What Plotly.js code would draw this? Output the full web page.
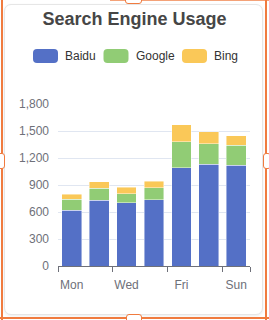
<!DOCTYPE html>
<html>
<head>
<meta charset="utf-8">
<script src="https://cdn.plot.ly/plotly-3.0.1.min.js"></script>
<style>
  html, body { margin:0; padding:0; background:#fff; width:269px; height:320px; overflow:hidden; }
  #card { position:absolute; left:4px; top:4px; width:257px; height:309px; border:1px solid #e6e6e6; border-radius:7px; box-shadow:0 1px 3px rgba(0,0,0,0.08); background:#fff; }
  #chart { position:absolute; left:0; top:0; width:269px; height:320px; }
  .fr { position:absolute; background:#f07b3f; pointer-events:none; }
  .hd { position:absolute; background:#fff; border:1.5px solid #f07b3f; border-radius:3px; pointer-events:none; box-sizing:border-box; }
</style>
</head>
<body>
<div id="card"></div>
<div id="chart"></div>
<div class="fr" style="left:1px;top:0;width:2px;height:320px;"></div>
<div class="fr" style="left:265px;top:0;width:2px;height:320px;"></div>
<div class="fr" style="left:0;top:317px;width:269px;height:2px;"></div>
<div class="fr" style="left:110px;top:0;width:159px;height:1px;opacity:0.7;"></div>
<div class="hd" style="left:125px;top:-4px;width:17px;height:8px;"></div>
<div class="hd" style="left:126px;top:314px;width:16px;height:9px;"></div>
<div class="hd" style="left:-3px;top:153px;width:8px;height:16px;"></div>
<div class="hd" style="left:263px;top:153px;width:8px;height:16px;"></div>
<script>
// ---- data ----
const days = ['Mon', 'Tue', 'Wed', 'Thu', 'Fri', 'Sat', 'Sun'];
const baidu = [620, 732, 701, 734, 1090, 1130, 1120];
const google = [120, 132, 101, 134, 290, 230, 220];
const bing = [60, 72, 71, 74, 190, 130, 110];
const seriesNames = ['Baidu', 'Google', 'Bing'];
const seriesColors = ['#5470c6', '#91cc75', '#fac858'];
const yTicks = [0, 300, 600, 900, 1200, 1500, 1800];

const W = 269, H = 320;
const M = {l: 58, r: 19, t: 104, b: 54};
const pw = W - M.l - M.r, ph = H - M.t - M.b;
const px = x => (x - M.l) / pw;
const py = y => (H - M.b - y) / ph;

const seriesData = [baidu, google, bing];
const traces = seriesData.map((vals, i) => ({
  type: 'bar',
  name: seriesNames[i],
  x: days,
  y: vals,
  marker: {color: seriesColors[i], line: {color: 'rgba(255,255,255,0.55)', width: 0.8}},
  showlegend: false,
  hoverinfo: 'x+y+name'
}));

// manual legend (rounded icons like the reference)
const legendItems = [
  {ix: 33, tx: 63},
  {ix: 103.5, tx: 133.5},
  {ix: 182, tx: 212}
];
const shapes = [];
const annotations = [];
function rrect(x0, y0, x1, y1, r) {
  const X = v => px(v), Y = v => py(v);
  return 'M' + X(x0 + r) + ',' + Y(y0) +
    ' L' + X(x1 - r) + ',' + Y(y0) + ' Q' + X(x1) + ',' + Y(y0) + ' ' + X(x1) + ',' + Y(y0 + r) +
    ' L' + X(x1) + ',' + Y(y1 - r) + ' Q' + X(x1) + ',' + Y(y1) + ' ' + X(x1 - r) + ',' + Y(y1) +
    ' L' + X(x0 + r) + ',' + Y(y1) + ' Q' + X(x0) + ',' + Y(y1) + ' ' + X(x0) + ',' + Y(y1 - r) +
    ' L' + X(x0) + ',' + Y(y0 + r) + ' Q' + X(x0) + ',' + Y(y0) + ' ' + X(x0 + r) + ',' + Y(y0) + ' Z';
}
seriesNames.forEach((n, i) => {
  const it = legendItems[i];
  shapes.push({type: 'path', xref: 'paper', yref: 'paper', path: rrect(it.ix, 49, it.ix + 25, 63, 4),
    fillcolor: seriesColors[i], line: {width: 0}});
  annotations.push({xref: 'paper', yref: 'paper', x: px(it.tx), y: py(56), xanchor: 'left', yanchor: 'middle',
    text: n, showarrow: false, font: {family: 'Liberation Sans, Arial, sans-serif', size: 12, color: '#333'}});
});

const bnd = [];
for (let i = 0; i < days.length; i += 2) bnd.push(i - 0.5);
bnd.push(days.length - 0.5);

const layout = {
  width: W, height: H,
  margin: M,
  paper_bgcolor: 'rgba(0,0,0,0)',
  plot_bgcolor: 'rgba(0,0,0,0)',
  barmode: 'stack',
  bargap: 0.28,
  title: {text: '<b>Search Engine Usage</b>', x: 0.5, xref: 'container', xanchor: 'center',
    y: 1 - 18.5 / H, yref: 'container', yanchor: 'middle',
    font: {family: 'Liberation Sans, Arial, sans-serif', size: 18, color: '#464646'}},
  font: {family: 'Liberation Sans, Arial, sans-serif', size: 12, color: '#6E7079'},
  xaxis: {
    type: 'category', dtick: 2, ticks: '', showgrid: false, zeroline: false,
    showline: true, linecolor: '#6E7079', linewidth: 1,
    ticklabelstandoff: 8,
    tickfont: {size: 12, color: '#6E7079'}, fixedrange: true
  },
  xaxis2: {
    overlaying: 'x', anchor: 'y', side: 'bottom', type: 'linear', range: [-0.5, days.length - 0.5],
    tickmode: 'array', tickvals: bnd, ticks: 'outside', ticklen: 5, tickcolor: '#6E7079', tickwidth: 1,
    showticklabels: false, showgrid: false, zeroline: false, showline: false, fixedrange: true
  },
  yaxis: {
    range: [0, 1800], tickmode: 'array', tickvals: yTicks, tickformat: ',',
    showgrid: true, gridcolor: '#E0E6F1', gridwidth: 1, zeroline: false, showline: false,
    ticks: '', ticklabelstandoff: 8, tickfont: {size: 12, color: '#6E7079'}, fixedrange: true
  },
  shapes: shapes,
  annotations: annotations,
  showlegend: false
};

// invisible trace so xaxis2 is drawn
traces.push({type: 'scatter', x: [-0.5], y: [0], xaxis: 'x2', mode: 'markers', marker: {opacity: 0}, hoverinfo: 'skip', showlegend: false});

Plotly.newPlot('chart', traces, layout, {displayModeBar: false, staticPlot: false});
</script>
</body>
</html>
